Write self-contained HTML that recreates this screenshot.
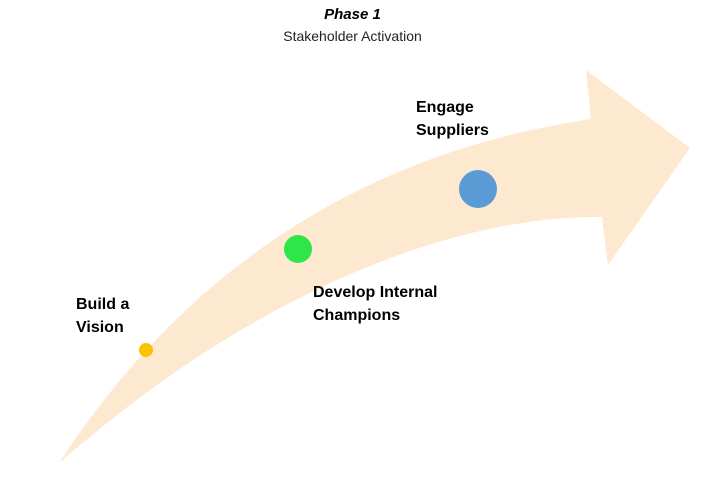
<!DOCTYPE html>
<html><head><meta charset="utf-8"><style>
html,body{margin:0;padding:0;background:#fff;}
body{width:705px;height:477px;overflow:hidden;position:relative;font-family:"Liberation Sans",sans-serif;}
.t{position:absolute;color:#000;}
.b{font-weight:bold;font-size:16px;line-height:23px;}
</style></head><body>
<svg width="705" height="477" style="position:absolute;left:0;top:0">
<path d="M59,463 Q250,170 591,119 L586,70 L690,148 L608,265 L602,217 C480,215 280,270 59,463 Z" fill="#fde9d0"/>
<circle cx="146" cy="350" r="7" fill="#ffc000"/>
<circle cx="298" cy="249" r="14" fill="#2ee54a"/>
<circle cx="478" cy="189" r="19" fill="#5b9bd5"/>
</svg>
<div class="t" style="left:0;width:705px;top:6px;text-align:center;font-weight:bold;font-style:italic;font-size:15px;">Phase 1</div>
<div class="t" style="left:0;width:705px;top:28px;text-align:center;font-size:14px;color:#222;">Stakeholder Activation</div>
<div class="t b" style="left:416px;top:96px;">Engage<br>Suppliers</div>
<div class="t b" style="left:313px;top:281px;">Develop Internal<br>Champions</div>
<div class="t b" style="left:76px;top:293px;">Build a<br>Vision</div>
</body></html>
